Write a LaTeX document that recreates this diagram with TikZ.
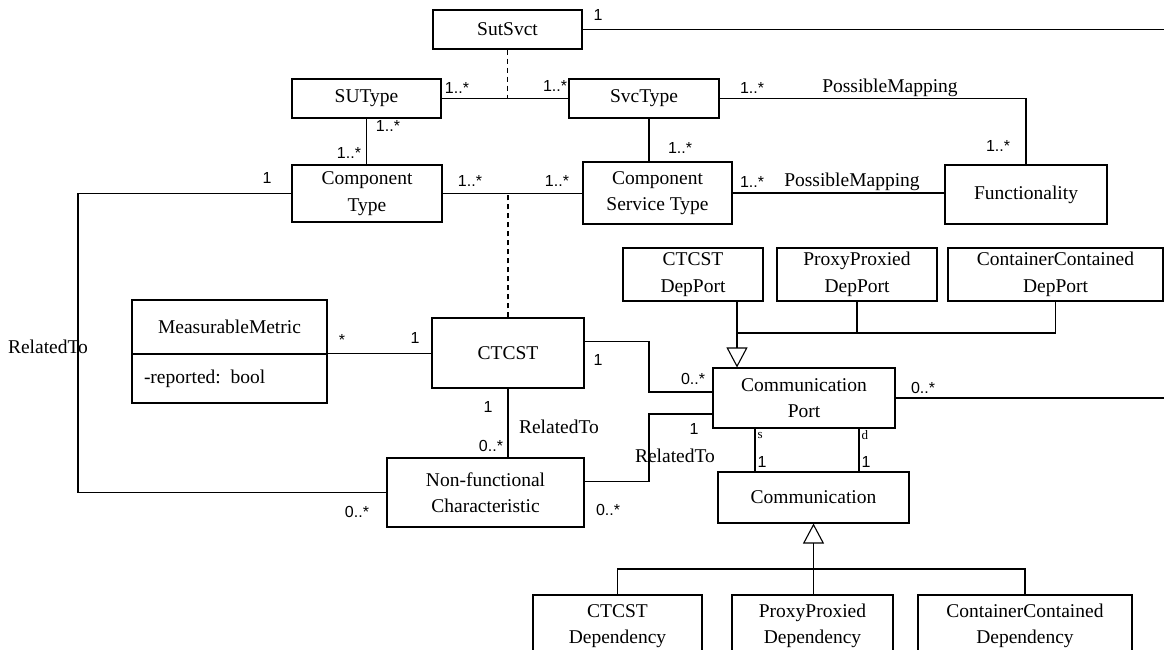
\documentclass[tikz,border=0pt]{standalone}
\usepackage{fontspec}
\setmainfont{Liberation Serif}
\newfontfamily\labelfont{Liberation Sans}
\usetikzlibrary{arrows.meta}

\tikzset{
	cls/.style={draw, rectangle, inner sep=0pt, align=center, font=\fontsize{19.5}{26.5}\selectfont},
	mult/.style={inner sep=0pt, font=\labelfont\fontsize{16}{18}\selectfont},
	role/.style={inner sep=0pt, font=\fontsize{19.5}{22}\selectfont},
	endname/.style={inner sep=0pt, anchor=west, font=\fontsize{13}{14}\selectfont},
	inherit/.style={-{Triangle[open,length=20pt,width=21pt]}},
	assoc/.style={dash pattern=on 5pt off 4pt}
}

\begin{document}
\begin{tikzpicture}[x=1pt,y=-1pt,line width=1.1pt]
			\useasboundingbox (0,0) rectangle (1164,649);
			\clip (0,0) rectangle (1164,649);
			% classes
			\node[cls, minimum width=149, minimum height=39] (sutsvct) at (507.5,29.5) {SutSvct};
			\node[cls, minimum width=149, minimum height=39] (sutype) at (366.5,98.5) {SUType};
			\node[cls, minimum width=150, minimum height=39] (svctype) at (644,98.5) {SvcType};
			\node[cls, minimum width=150, minimum height=57] (comptype) at (367,193.5) {Component\\Type};
			\node[cls, minimum width=149, minimum height=62] (cstype) at (657.5,193) {Component\\Service Type};
			\node[cls, minimum width=162, minimum height=59] (func) at (1026,194.5) {Functionality};
			\node[cls, minimum width=195, minimum height=54] (mmname) at (229.5,327) {MeasurableMetric};
			\node[cls, minimum width=195, minimum height=49, text width=171, align=left] (mmattr) at (229.5,378.5) {-reported: bool};
			\node[cls, minimum width=152, minimum height=70] (ctcst) at (508,353) {CTCST};
			\node[cls, minimum width=197, minimum height=69] (nfc) at (485.5,492.5) {Non-functional\\Characteristic};
			\node[cls, minimum width=140, minimum height=53] (dep1) at (693,274.5) {CTCST\\DepPort};
			\node[cls, minimum width=160, minimum height=53] (dep2) at (857,274.5) {ProxyProxied\\DepPort};
			\node[cls, minimum width=215, minimum height=53] (dep3) at (1055.5,274.5) {ContainerContained\\DepPort};
			\node[cls, minimum width=182, minimum height=60] (commport) at (804,398) {Communication\\Port};
			\node[cls, minimum width=191, minimum height=51] (comm) at (813.5,497.5) {Communication};
			\node[cls, minimum width=169, minimum height=62] (dd1) at (617.5,626) {CTCST\\Dependency};
			\node[cls, minimum width=161, minimum height=62] (dd2) at (812.5,626) {ProxyProxied\\Dependency};
			\node[cls, minimum width=214, minimum height=62] (dd3) at (1025,626) {ContainerContained\\Dependency};
			% bends and free ends
			\coordinate (redge) at (1164,0);
			\coordinate (rtbend) at (78,0);
			\coordinate (cpbend) at (649,0);
			\coordinate (genup) at (0,333);
			\coordinate (gendown) at (0,569);
			\coordinate (svcdown) at ([xshift=5pt]svctype.south);
			\coordinate (ctout) at ([yshift=11.3pt]ctcst.east);
			\coordinate (nfcout) at ([yshift=10.8pt]nfc.east);
			\coordinate (cpin1) at ([yshift=6pt]commport.west);
			\coordinate (cpin2) at ([yshift=-16pt]commport.west);
			\coordinate (cptop) at ([xshift=-67pt]commport.north);
			\coordinate (depjoin) at ([xshift=44pt]dep1.south);
			\coordinate (srcend) at ([xshift=-49pt]commport.south);
			\coordinate (dstend) at ([xshift=55pt]commport.south);
			% associations
			\draw (sutsvct.east) -- (sutsvct.east -| redge);
			\draw (sutype.east) -- (sutype.east -| svctype.west);
			\draw[assoc] (sutsvct.south) -- (sutsvct.south |- sutype.east);
			\draw (sutype.south) -- (sutype.south |- comptype.north);
			\draw (svcdown) -- (svcdown |- cstype.north);
			\draw (svctype.east) -| (func.north);
			\draw (cstype.east) -- (cstype.east -| func.west);
			\draw (comptype.east) -- (comptype.east -| cstype.west);
			\draw[assoc] (ctcst.north) -- (ctcst.north |- comptype.east);
			\draw (comptype.west) -| (rtbend |- nfc.west) -- (nfc.west);
			\draw (mmattr.north east) -- (mmattr.north east -| ctcst.west);
			\draw (ctcst.south) -- (ctcst.south |- nfc.north);
			\draw (ctout) -| (cpin1 -| cpbend) -- (cpin1);
			\draw (nfcout) -| (cpin2 -| cpbend) -- (cpin2);
			\draw (srcend) -- (srcend |- comm.north);
			\draw (dstend) -- (dstend |- comm.north);
			\draw (commport.east) -- (commport.east -| redge);
			% generalizations
			\draw[inherit] (cptop |- genup) -- (cptop);
			\draw (depjoin) -- (depjoin |- genup) -- (dep3.south |- genup) -- (dep3.south);
			\draw (dep2.south) -- (dep2.south |- genup);
			\draw[inherit] (comm.south |- gendown) -- (comm.south);
			\draw (dd1.north) -- (dd1.north |- gendown) -- (dd3.north |- gendown) -- (dd3.north);
			\draw (comm.south |- dd2.north) -- (comm.south |- gendown);
			% multiplicities and roles
			\node[mult] (m1) at (598,15) {1};
			\node[mult] (m2) at (457,88) {1..*};
			\node[mult] (m3) at (555,86) {1..*};
			\node[mult] (m4) at (388,126) {1..*};
			\node[mult] (m5) at (349,153) {1..*};
			\node[mult] (m6) at (680,148) {1..*};
			\node[mult] (m7) at (752,88) {1..*};
			\node[role] (r1) at (890,88) {PossibleMapping};
			\node[mult] (m8) at (998,146) {1..*};
			\node[mult] (m9) at (752,182) {1..*};
			\node[role] (r2) at (852,182) {PossibleMapping};
			\node[mult] (m10) at (470,181) {1..*};
			\node[mult] (m11) at (557,181) {1..*};
			\node[mult] (m12) at (267,178) {1};
			\node[role] (r3) at (48,347) {RelatedTo};
			\node[mult] (m13) at (357,512) {0..*};
			\node[mult] (m14) at (342,340) {*};
			\node[mult] (m15) at (415,338) {1};
			\node[mult] (m16) at (598,360) {1};
			\node[mult] (m17) at (693,379) {0..*};
			\node[mult] (m18) at (488,407) {1};
			\node[role] (r4) at (559,427) {RelatedTo};
			\node[mult] (m19) at (491,446) {0..*};
			\node[mult] (m20) at (694,429) {1};
			\node[role] (r5) at (675,456) {RelatedTo};
			\node[mult] (m21) at (608,510) {0..*};
			\node[endname] (e1) at (757,435) {s};
			\node[mult, anchor=west] (m22) at (757,462) {1};
			\node[endname] (e2) at (861,435) {d};
			\node[mult, anchor=west] (m23) at (861,462) {1};
			\node[mult] (m24) at (923,388) {0..*};
\end{tikzpicture}
\end{document}
